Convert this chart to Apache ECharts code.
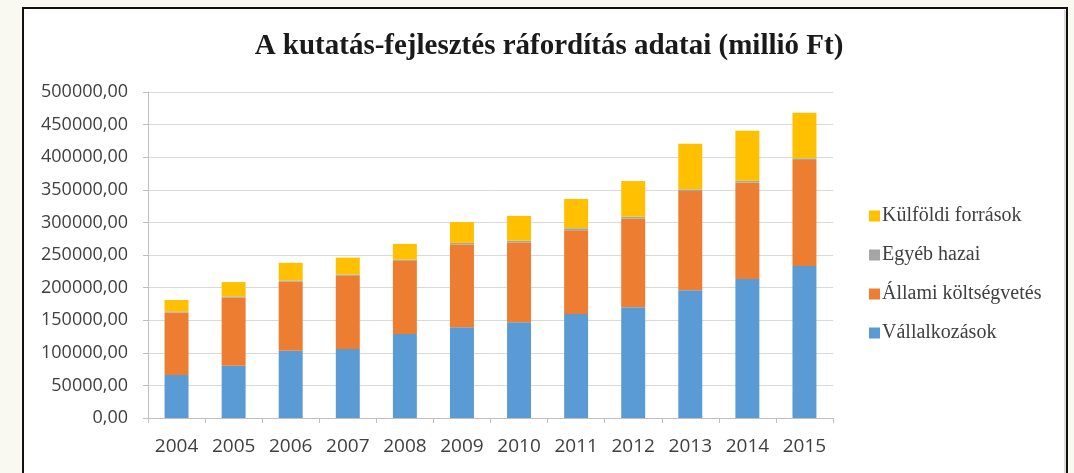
<!DOCTYPE html>
<html>
<head>
<meta charset="utf-8">
<script src="https://cdn.jsdelivr.net/npm/echarts@6/dist/echarts.min.js"></script>
<style>
html,body{margin:0;padding:0;background:#f9f9f2;}
#c{width:1074px;height:473px;}
</style>
</head>
<body>
<div id="c"></div>
<script>
const years = ['2004','2005','2006','2007','2008','2009','2010','2011','2012','2013','2014','2015'];
const vallalkozasok = [66000, 80000, 103000, 106000, 129000, 139000, 147000, 159500, 170000, 196000, 213000, 233000];
const allami = [96000, 104500, 106000, 112000, 112000, 127000, 122000, 128500, 135700, 152000, 148000, 162700];
const egyeb = [1500, 2000, 2000, 2000, 2000, 2500, 3000, 3000, 3000, 2700, 3000, 2600];
const kulfoldi = [17500, 22000, 27000, 26000, 24000, 32000, 38000, 45000, 54700, 70000, 76700, 69700];
const seriesNames = ['Vállalkozások', 'Állami költségvetés', 'Egyéb hazai', 'Külföldi források'];
const yTicks = { min: 0, max: 500000, interval: 50000 };

const colors = ['#5b9bd5', '#ed7d31', '#a5a5a5', '#ffc000'];
const dataSets = [vallalkozasok, allami, egyeb, kulfoldi];

const chart = echarts.init(document.getElementById('c'));
chart.setOption({
  animation: false,
  backgroundColor: '#f9f9f2',
  graphic: [{
    type: 'rect', z: -10, silent: true,
    shape: { x: 23, y: 8, width: 1044, height: 480 },
    style: { fill: '#ffffff', stroke: '#111111', lineWidth: 2 }
  }, {
    type: 'line', z: -9, silent: true,
    shape: { x1: 1065, y1: 10, x2: 1065, y2: 480 },
    style: { stroke: '#bbbbbb', lineWidth: 1 }
  }],
  title: {
    text: 'A kutatás-fejlesztés ráfordítás adatai (millió Ft)',
    left: 544, top: 27, textAlign: 'center',
    textStyle: { fontFamily: 'Liberation Serif', fontWeight: 'bold', fontSize: 29, color: '#1a1a1a' }
  },
  legend: {
    orient: 'vertical',
    left: 864, top: 201,
    itemGap: 19,
    itemWidth: 11, itemHeight: 11,
    icon: 'rect',
    data: seriesNames.slice().reverse(),
    textStyle: { fontFamily: 'Liberation Serif', fontSize: 20, color: '#404040', padding: [0,0,0,-3] }
  },
  grid: { left: 148, right: 241, top: 92, bottom: 55 },
  xAxis: {
    type: 'category',
    data: years,
    axisLine: { lineStyle: { color: '#bfbfbf' } },
    axisTick: { show: true, alignWithLabel: false, length: 5, lineStyle: { color: '#bfbfbf' } },
    axisLabel: { margin: 19, fontFamily: 'Open Sans', fontSize: 19, color: '#404040' }
  },
  yAxis: {
    type: 'value',
    min: yTicks.min, max: yTicks.max, interval: yTicks.interval,
    axisLine: { show: true, lineStyle: { color: '#bfbfbf' } },
    axisTick: { show: true, length: 5, lineStyle: { color: '#bfbfbf' } },
    splitLine: { lineStyle: { color: '#d9d9d9' } },
    axisLabel: {
      margin: 20, fontFamily: 'Open Sans', fontSize: 18, color: '#404040',
      formatter: v => v.toFixed(2).replace('.', ',')
    }
  },
  series: seriesNames.map((n, i) => ({
    name: n, type: 'bar', stack: 'total',
    barWidth: '42%',
    itemStyle: { color: colors[i] },
    data: dataSets[i]
  }))
});
</script>
</body>
</html>
